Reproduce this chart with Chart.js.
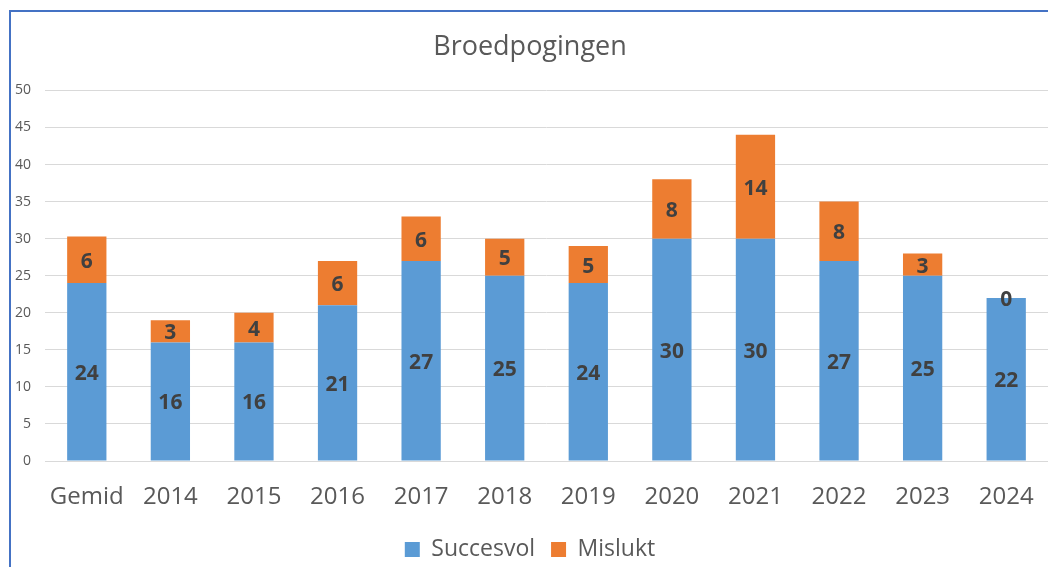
<!DOCTYPE html>
<html><head><meta charset="utf-8">
<script src="https://cdn.jsdelivr.net/npm/chart.js@4.4.1/dist/chart.umd.min.js"></script>
<style>
html,body{margin:0;padding:0;background:#fff;}
#wrap{position:absolute;left:0;top:0;width:1048px;height:567px;overflow:hidden;}
#frame{position:absolute;left:9px;top:10px;width:1100px;height:620px;border:2px solid #4472C4;box-sizing:border-box;}
#c{position:absolute;left:0;top:0;}
</style></head>
<body><div id="wrap"><div id="frame"></div><canvas id="c" width="1048" height="567"></canvas></div>
<script>
const categories = ["Gemid","2014","2015","2016","2017","2018","2019","2020","2021","2022","2023","2024"];
const succesvol = [24.0,16,16,21,27,25,24,30,30,27,25,22];
const mislukt   = [6.3,3,4,6,6,5,5,8,14,8,3,0];
const yTicks = [0,5,10,15,20,25,30,35,40,45,50];

const labelPlugin = {
  id:'segLabels',
  afterDatasetsDraw(chart){
    const ctx = chart.ctx;
    ctx.save();
    ctx.font = 'bold 21px "Open Sans", sans-serif';
    ctx.fillStyle = '#404040';
    ctx.textAlign = 'center';
    ctx.textBaseline = 'middle';
    chart.data.datasets.forEach((ds,di)=>{
      const meta = chart.getDatasetMeta(di);
      meta.data.forEach((bar,i)=>{
        const p = bar.getProps(['x','y','base'],true);
        const y = (p.y + p.base)/2;
        ctx.fillText(String(Math.round(ds.data[i])), p.x, y+2);
      });
    });
    ctx.restore();
  }
};

new Chart(document.getElementById('c'), {
  type:'bar',
  data:{
    labels:categories,
    datasets:[
      {label:'Succesvol', data:succesvol, backgroundColor:'#5B9BD5', categoryPercentage:1, barPercentage:0.47},
      {label:'Mislukt', data:mislukt, backgroundColor:'#ED7D31', categoryPercentage:1, barPercentage:0.47}
    ]
  },
  options:{
    responsive:false, animation:false,
    layout:{padding:{left:12,right:0,top:0,bottom:-4}},
    plugins:{
      title:{display:true, text:'Broedpogingen', color:'#595959',
        font:{family:'"Open Sans", sans-serif', size:27, weight:'normal'}, padding:{top:31,bottom:27}},
      legend:{position:'bottom', labels:{color:'#595959', boxWidth:15, boxHeight:15, padding:16,
        font:{family:'"Open Sans", sans-serif', size:23}}},
      tooltip:{enabled:false}
    },
    scales:{
      x:{stacked:true,
        grid:{display:false, drawTicks:false},
        border:{display:true,color:'#D9D9D9',width:1},
        ticks:{color:'#595959', padding:22, font:{family:'"Open Sans", sans-serif', size:24}},
        afterFit(s){s.height=61; s.paddingLeft=0; s.paddingRight=0;}
      },
      y:{stacked:true, min:0, max:50,
        afterBuildTicks(s){s.ticks = yTicks.map(v=>({value:v}));},
        grid:{color:'#D9D9D9', drawTicks:false},
        border:{display:false},
        ticks:{color:'#595959', padding:14, font:{family:'"Open Sans", sans-serif', size:14}},
        afterFit(s){s.width=33;}
      }
    }
  },
  plugins:[labelPlugin]
});
</script></body></html>
